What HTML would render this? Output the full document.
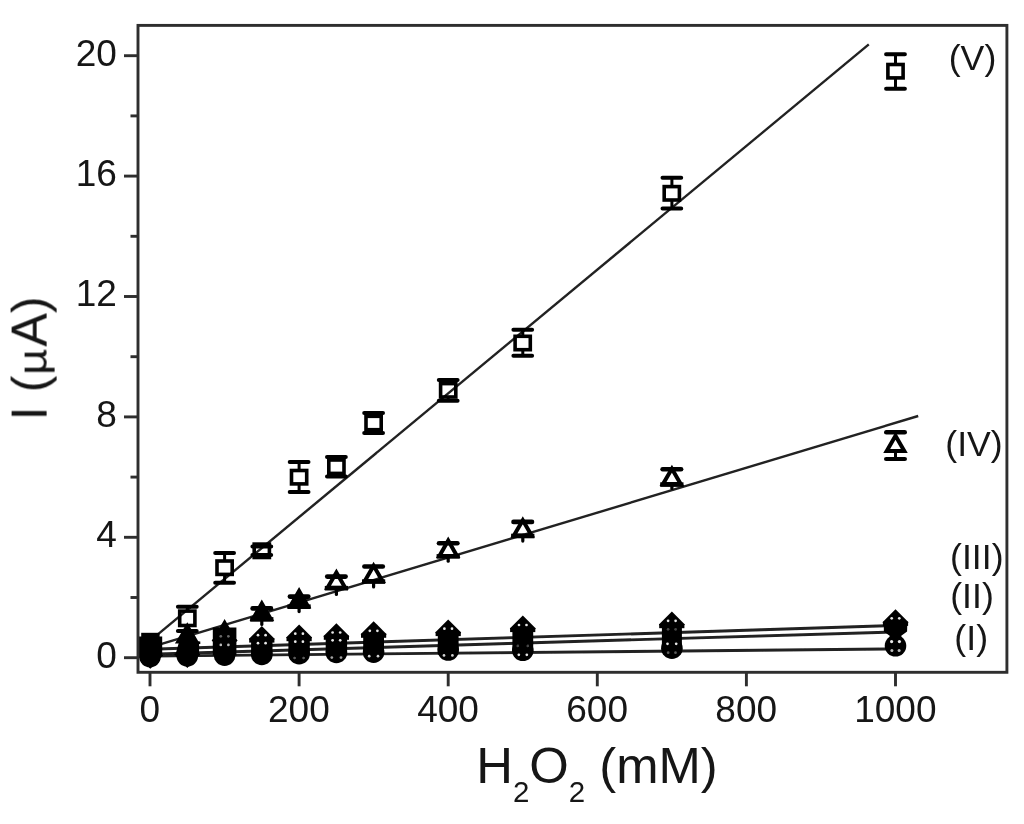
<!DOCTYPE html>
<html lang="en"><head><meta charset="utf-8"><title>I (µA) vs H2O2 (mM)</title>
<style>html,body{margin:0;padding:0;background:#fff;}body{width:1024px;height:824px;overflow:hidden;}svg{display:block;}text{font-family:"Liberation Sans",Arial,Helvetica,sans-serif;fill:#141414;}</style></head><body>
<svg width="1024" height="824" viewBox="0 0 1024 824">
<defs><filter id="soft" x="0" y="0" width="1024" height="824" filterUnits="userSpaceOnUse"><feGaussianBlur stdDeviation="0.72"/></filter></defs>
<rect x="0" y="0" width="1024" height="824" fill="#fff"/>
<g filter="url(#soft)">
<g stroke="#202020" stroke-width="2.4" stroke-linecap="butt" fill="none">
<line x1="150.0" y1="640.8" x2="868.8" y2="44.4"/>
<line x1="150.0" y1="647.3" x2="918.2" y2="416.0"/>
<line x1="150.0" y1="649.2" x2="895.3" y2="625.5" stroke-width="2.9"/>
<line x1="150.0" y1="654.3" x2="895.3" y2="631.9" stroke-width="2.9"/>
<line x1="150.0" y1="656.1" x2="895.3" y2="648.9" stroke-width="2.9"/>
</g>
<g stroke="#000" fill="none" stroke-width="4" stroke-linejoin="miter">
<path d="M150.0 639.8 L158.8 655.1 L141.2 655.1 Z" fill="#000"/>
<path d="M187.3 626.3 L196.1 641.6 L178.4 641.6 Z" fill="#000"/>
<path d="M224.6 623.0 L233.4 638.3 L215.7 638.3 Z" fill="#000"/>
<path d="M261.8 603.6 L270.7 618.9 L253.0 618.9 Z" fill="#000"/>
<path d="M252.6 608.4 H271.0" stroke-width="4.6" stroke-linecap="round"/>
<path d="M250.2 619.4 H273.4" stroke-width="4.6" stroke-linecap="butt"/>
<path d="M261.8 618.8 V624.4" stroke-width="3.2" stroke-linecap="round"/>
<path d="M299.1 590.9 L307.9 606.2 L290.3 606.2 Z" fill="#000"/>
<path d="M289.9 596.6 H308.3" stroke-width="4.6" stroke-linecap="round"/>
<path d="M287.5 606.7 H310.7" stroke-width="4.6" stroke-linecap="butt"/>
<path d="M299.1 606.1 V611.6" stroke-width="3.2" stroke-linecap="round"/>
<path d="M336.4 572.4 L345.2 587.7 L327.5 587.7 Z" fill="none"/>
<path d="M327.2 576.6 H345.6" stroke-width="4.6" stroke-linecap="round"/>
<path d="M324.8 588.2 H348.0" stroke-width="4.6" stroke-linecap="butt"/>
<path d="M336.4 587.6 V594.4" stroke-width="3.2" stroke-linecap="round"/>
<path d="M373.6 565.8 L382.5 581.1 L364.8 581.1 Z" fill="none"/>
<path d="M364.4 566.5 H382.8" stroke-width="4.6" stroke-linecap="round"/>
<path d="M362.0 581.6 H385.2" stroke-width="4.6" stroke-linecap="butt"/>
<path d="M373.6 581.0 V586.9" stroke-width="3.2" stroke-linecap="round"/>
<path d="M448.2 540.6 L457.0 555.9 L439.4 555.9 Z" fill="none"/>
<path d="M439.0 543.2 H457.4" stroke-width="4.6" stroke-linecap="round"/>
<path d="M436.6 556.4 H459.8" stroke-width="4.6" stroke-linecap="butt"/>
<path d="M448.2 555.8 V561.2" stroke-width="3.2" stroke-linecap="round"/>
<path d="M522.8 520.2 L531.6 535.5 L513.9 535.5 Z" fill="none"/>
<path d="M513.5 521.9 H532.0" stroke-width="4.6" stroke-linecap="round"/>
<path d="M511.1 536.0 H534.4" stroke-width="4.6" stroke-linecap="butt"/>
<path d="M522.8 535.4 V541.1" stroke-width="3.2" stroke-linecap="round"/>
<path d="M671.9 468.8 L680.7 484.1 L663.0 484.1 Z" fill="none"/>
<path d="M662.6 469.3 H681.1" stroke-width="4.6" stroke-linecap="round"/>
<path d="M660.2 484.6 H683.5" stroke-width="4.6" stroke-linecap="butt"/>
<path d="M671.9 484.0 V488.4" stroke-width="3.2" stroke-linecap="round"/>
<path d="M895.5 435.8 L904.3 451.1 L886.7 451.1 Z" fill="none"/>
<path d="M886.3 432.2 H904.7" stroke-width="4.6" stroke-linecap="round"/>
<path d="M886.1 459.0 H904.9" stroke-width="4.2" stroke-linecap="round"/>
<path d="M895.5 451.0 V459.0" stroke-width="3"/>
</g>
<g fill="#000" stroke="none">
<path d="M150.0 642.5 L163.0 655.5 L150.0 668.5 L137.0 655.5 Z"/>
<circle cx="150.0" cy="656.5" r="10.8"/>
<path d="M187.3 641.5 L200.3 654.5 L187.3 667.5 L174.3 654.5 Z"/>
<circle cx="187.3" cy="655.8" r="10.8"/>
<path d="M224.6 627.6 L237.6 640.6 L224.6 653.6 L211.6 640.6 Z"/>
<circle cx="224.6" cy="655.1" r="10.8"/>
<path d="M261.8 626.0 L274.8 639.0 L261.8 652.0 L248.8 639.0 Z"/>
<circle cx="261.8" cy="654.4" r="10.8"/>
<rect x="249.2" y="638.4" width="25.2" height="4.2"/>
<rect x="251.1" y="639.0" width="21.4" height="15.4"/>
<path d="M299.1 624.6 L312.1 637.6 L299.1 650.6 L286.1 637.6 Z"/>
<circle cx="299.1" cy="653.7" r="10.8"/>
<rect x="286.5" y="637.0" width="25.2" height="4.2"/>
<rect x="288.4" y="637.6" width="21.4" height="16.1"/>
<path d="M336.4 623.2 L349.4 636.2 L336.4 649.2 L323.4 636.2 Z"/>
<circle cx="336.4" cy="652.4" r="10.8"/>
<rect x="323.8" y="635.6" width="25.2" height="4.2"/>
<rect x="325.7" y="636.2" width="21.4" height="16.2"/>
<path d="M373.6 621.2 L386.6 634.2 L373.6 647.2 L360.6 634.2 Z"/>
<circle cx="373.6" cy="652.1" r="10.8"/>
<rect x="361.0" y="633.6" width="25.2" height="4.2"/>
<rect x="363.2" y="634.2" width="20.8" height="17.9"/>
<path d="M448.2 619.5 L461.2 632.5 L448.2 645.5 L435.2 632.5 Z"/>
<circle cx="448.2" cy="650.0" r="10.8"/>
<rect x="435.6" y="631.9" width="25.2" height="4.2"/>
<rect x="437.8" y="632.5" width="20.8" height="17.5"/>
<path d="M522.8 615.5 L535.8 628.5 L522.8 641.5 L509.8 628.5 Z"/>
<circle cx="522.8" cy="650.3" r="10.8"/>
<rect x="510.1" y="627.9" width="25.2" height="4.2"/>
<rect x="512.4" y="628.5" width="20.8" height="21.8"/>
<path d="M671.9 611.6 L684.9 624.6 L671.9 637.6 L658.9 624.6 Z"/>
<circle cx="671.9" cy="648.2" r="10.8"/>
<rect x="659.2" y="624.0" width="25.2" height="4.2"/>
<rect x="661.9" y="624.6" width="20" height="23.6"/>
<path d="M895.5 609.3 L908.5 622.3 L895.5 635.3 L882.5 622.3 Z"/>
<circle cx="895.5" cy="645.8" r="10.8"/>
<rect x="882.9" y="621.7" width="25.2" height="4.2"/>
<path d="M883.7 622.3 L907.3 622.3 L907.1 631.6 L901.3 635.7 L901.3 638.3 L889.7 638.3 L889.7 635.7 L883.9 631.6 Z"/>
<rect x="141.2" y="632.8" width="18.4" height="8"/>
<rect x="138.8" y="636.5" width="23.4" height="19"/>
<path d="M138.8 655 L162.2 655 L150.5 668.8 Z"/>
<path d="M187.3 633 L195.3 641 L200.3 641.5 L200.3 644 L199.1 644 L199.1 654.5 L187.3 668 L175.5 654.5 L179.3 641 Z"/>
<rect x="212.8" y="627.5" width="23.6" height="28"/>
</g>
<g fill="#e8e8e8">
<circle cx="220.8" cy="636.3" r="1.35" opacity="0.45"/>
<circle cx="228.4" cy="636.3" r="1.35" opacity="0.45"/>
<circle cx="220.8" cy="644.9" r="1.35" opacity="0.80"/>
<circle cx="228.4" cy="644.9" r="1.35" opacity="0.80"/>
<circle cx="258.0" cy="635.2" r="1.35" opacity="1.00"/>
<circle cx="265.6" cy="635.2" r="1.35" opacity="1.00"/>
<circle cx="258.0" cy="643.2" r="1.35" opacity="1.00"/>
<circle cx="265.6" cy="643.2" r="1.35" opacity="1.00"/>
<circle cx="295.3" cy="633.7" r="1.35" opacity="1.00"/>
<circle cx="302.9" cy="633.7" r="1.35" opacity="1.00"/>
<circle cx="295.3" cy="641.7" r="1.35" opacity="1.00"/>
<circle cx="302.9" cy="641.7" r="1.35" opacity="1.00"/>
<circle cx="294.6" cy="658.0" r="1.35" opacity="0.40"/>
<circle cx="303.6" cy="658.0" r="1.35" opacity="0.40"/>
<circle cx="332.6" cy="632.5" r="1.35" opacity="1.00"/>
<circle cx="340.2" cy="632.5" r="1.35" opacity="1.00"/>
<circle cx="332.6" cy="640.3" r="1.35" opacity="1.00"/>
<circle cx="340.2" cy="640.3" r="1.35" opacity="1.00"/>
<circle cx="331.8" cy="657.6" r="1.35" opacity="0.70"/>
<circle cx="341.0" cy="657.6" r="1.35" opacity="0.70"/>
<circle cx="369.8" cy="630.8" r="1.35" opacity="1.00"/>
<circle cx="377.4" cy="630.8" r="1.35" opacity="1.00"/>
<circle cx="369.2" cy="656.2" r="1.35" opacity="0.90"/>
<circle cx="378.0" cy="656.2" r="1.35" opacity="0.90"/>
<circle cx="444.4" cy="628.7" r="1.35" opacity="1.00"/>
<circle cx="452.0" cy="628.7" r="1.35" opacity="1.00"/>
<circle cx="444.0" cy="655.4" r="1.35" opacity="0.90"/>
<circle cx="452.4" cy="655.4" r="1.35" opacity="0.90"/>
<circle cx="519.0" cy="625.0" r="1.35" opacity="1.00"/>
<circle cx="526.5" cy="625.0" r="1.35" opacity="1.00"/>
<circle cx="518.8" cy="654.8" r="1.35" opacity="1.00"/>
<circle cx="526.8" cy="654.8" r="1.35" opacity="1.00"/>
<circle cx="517.8" cy="645.9" r="1.35" opacity="0.30"/>
<circle cx="527.8" cy="645.9" r="1.35" opacity="0.30"/>
<circle cx="668.1" cy="620.8" r="1.35" opacity="1.00"/>
<circle cx="675.6" cy="620.8" r="1.35" opacity="1.00"/>
<circle cx="668.1" cy="629.3" r="1.35" opacity="0.30"/>
<circle cx="675.6" cy="629.3" r="1.35" opacity="0.30"/>
<circle cx="667.5" cy="643.8" r="1.35" opacity="1.00"/>
<circle cx="676.2" cy="643.8" r="1.35" opacity="1.00"/>
<circle cx="668.2" cy="652.7" r="1.35" opacity="0.40"/>
<circle cx="675.5" cy="652.7" r="1.35" opacity="0.40"/>
<circle cx="891.7" cy="618.3" r="1.35" opacity="1.00"/>
<circle cx="899.3" cy="618.3" r="1.35" opacity="1.00"/>
<circle cx="891.6" cy="641.6" r="1.60" opacity="1.00"/>
<circle cx="899.4" cy="641.6" r="1.60" opacity="1.00"/>
<circle cx="891.9" cy="650.5" r="1.50" opacity="0.80"/>
<circle cx="899.1" cy="650.5" r="1.50" opacity="0.80"/>
</g>
<g stroke="#000" fill="none">
<path d="M187.3 606.8 V611.1 M187.3 625.5 V631.0" stroke-width="3"/>
<rect x="179.7" y="611.1" width="15.2" height="14.4" stroke-width="3.6" fill="none"/>
<path d="M177.9 606.8 H196.7 M177.9 631.0 H196.7" stroke-width="4" stroke-linecap="round"/>
<path d="M224.6 553.0 V561.0 M224.6 574.4 V582.8" stroke-width="3"/>
<rect x="217.0" y="561.0" width="15.2" height="13.4" stroke-width="3.6" fill="none"/>
<path d="M215.2 553.0 H234.0 M215.2 582.8 H234.0" stroke-width="4" stroke-linecap="round"/>
<path d="M261.8 546.6 V546.6 M261.8 554.9 V554.9" stroke-width="3"/>
<rect x="254.2" y="544.1" width="15.2" height="13.4" stroke-width="3.6" fill="none"/>
<path d="M252.4 546.6 H271.2 M252.4 554.9 H271.2" stroke-width="4" stroke-linecap="round"/>
<path d="M299.1 462.0 V470.5 M299.1 483.9 V492.0" stroke-width="3"/>
<rect x="291.5" y="470.5" width="15.2" height="13.4" stroke-width="3.6" fill="none"/>
<path d="M289.7 462.0 H308.5 M289.7 492.0 H308.5" stroke-width="4" stroke-linecap="round"/>
<path d="M336.4 457.0 V460.0 M336.4 473.4 V476.6" stroke-width="3"/>
<rect x="328.8" y="460.0" width="15.2" height="13.4" stroke-width="3.6" fill="none"/>
<path d="M327.0 457.0 H345.8 M327.0 476.6 H345.8" stroke-width="4" stroke-linecap="round"/>
<path d="M373.6 413.1 V416.3 M373.6 429.7 V433.1" stroke-width="3"/>
<rect x="366.0" y="416.3" width="15.2" height="13.4" stroke-width="3.6" fill="none"/>
<path d="M364.2 413.1 H383.0 M364.2 433.1 H383.0" stroke-width="4" stroke-linecap="round"/>
<path d="M448.2 380.0 V383.6 M448.2 397.0 V400.8" stroke-width="3"/>
<rect x="440.6" y="383.6" width="15.2" height="13.4" stroke-width="3.6" fill="none"/>
<path d="M438.8 380.0 H457.6 M438.8 400.8 H457.6" stroke-width="4" stroke-linecap="round"/>
<path d="M522.8 329.7 V336.3 M522.8 349.7 V355.8" stroke-width="3"/>
<rect x="515.1" y="336.3" width="15.2" height="13.4" stroke-width="3.6" fill="none"/>
<path d="M513.4 329.7 H532.1 M513.4 355.8 H532.1" stroke-width="4" stroke-linecap="round"/>
<path d="M671.9 177.7 V186.6 M671.9 200.0 V208.6" stroke-width="3"/>
<rect x="664.2" y="186.6" width="15.2" height="13.4" stroke-width="3.6" fill="none"/>
<path d="M662.5 177.7 H681.2 M662.5 208.6 H681.2" stroke-width="4" stroke-linecap="round"/>
<path d="M895.5 54.2 V64.5 M895.5 77.9 V88.8" stroke-width="3"/>
<rect x="887.9" y="64.5" width="15.2" height="13.4" stroke-width="3.6" fill="none"/>
<path d="M886.1 54.2 H904.9 M886.1 88.8 H904.9" stroke-width="4" stroke-linecap="round"/>
</g>
<g stroke="#2e2e2e" stroke-width="2.9" fill="none" stroke-linecap="butt">
<rect x="138.0" y="25.4" width="868.9" height="646.9"/>
<line x1="124.0" y1="657.7" x2="138.0" y2="657.7"/>
<line x1="130.5" y1="597.5" x2="138.0" y2="597.5"/>
<line x1="124.0" y1="537.3" x2="138.0" y2="537.3"/>
<line x1="130.5" y1="477.1" x2="138.0" y2="477.1"/>
<line x1="124.0" y1="416.9" x2="138.0" y2="416.9"/>
<line x1="130.5" y1="356.7" x2="138.0" y2="356.7"/>
<line x1="124.0" y1="296.5" x2="138.0" y2="296.5"/>
<line x1="130.5" y1="236.3" x2="138.0" y2="236.3"/>
<line x1="124.0" y1="176.1" x2="138.0" y2="176.1"/>
<line x1="130.5" y1="115.9" x2="138.0" y2="115.9"/>
<line x1="124.0" y1="55.7" x2="138.0" y2="55.7"/>
<line x1="150.0" y1="672.3" x2="150.0" y2="686.3"/>
<line x1="299.1" y1="672.3" x2="299.1" y2="686.3"/>
<line x1="448.2" y1="672.3" x2="448.2" y2="686.3"/>
<line x1="597.3" y1="672.3" x2="597.3" y2="686.3"/>
<line x1="746.4" y1="672.3" x2="746.4" y2="686.3"/>
<line x1="895.5" y1="672.3" x2="895.5" y2="686.3"/>
</g>
<text transform="translate(116.9 667.6) scale(1.000 1)" font-size="37.00" text-anchor="end">0</text>
<text transform="translate(116.9 547.2) scale(1.000 1)" font-size="37.00" text-anchor="end">4</text>
<text transform="translate(116.9 426.8) scale(1.000 1)" font-size="37.00" text-anchor="end">8</text>
<text transform="translate(116.9 306.4) scale(1.000 1)" font-size="37.00" text-anchor="end">12</text>
<text transform="translate(116.9 186.0) scale(1.000 1)" font-size="37.00" text-anchor="end">16</text>
<text transform="translate(116.9 65.6) scale(1.000 1)" font-size="37.00" text-anchor="end">20</text>
<text transform="translate(149.8 721.9) scale(1.000 1)" font-size="37.00" text-anchor="middle">0</text>
<text transform="translate(298.9 721.9) scale(1.000 1)" font-size="37.00" text-anchor="middle">200</text>
<text transform="translate(448.0 721.9) scale(1.000 1)" font-size="37.00" text-anchor="middle">400</text>
<text transform="translate(597.1 721.9) scale(1.000 1)" font-size="37.00" text-anchor="middle">600</text>
<text transform="translate(746.2 721.9) scale(1.000 1)" font-size="37.00" text-anchor="middle">800</text>
<text transform="translate(895.3 721.9) scale(1.000 1)" font-size="37.00" text-anchor="middle">1000</text>
<text transform="translate(972.5 69.9) scale(1.032 1)" font-size="34.60" text-anchor="middle">(V)</text>
<text transform="translate(974.0 455.6) scale(1.032 1)" font-size="34.60" text-anchor="middle">(IV)</text>
<text transform="translate(976.8 569.0) scale(1.032 1)" font-size="34.60" text-anchor="middle">(III)</text>
<text transform="translate(972.0 608.1) scale(1.032 1)" font-size="34.60" text-anchor="middle">(II)</text>
<text transform="translate(971.2 649.6) scale(1.032 1)" font-size="34.60" text-anchor="middle">(I)</text>
<g transform="translate(46.6 358.4) rotate(-90)" font-size="50.3"><text x="-62.0" y="0">I (</text><text transform="translate(-16.6 0) scale(0.9 0.82)">µ</text><text x="11.7" y="0">A)</text></g>
<text transform="translate(597 783.4) scale(1.016 1)" font-size="50" text-anchor="middle">H<tspan font-size="29" dy="18.8">2</tspan><tspan dy="-18.8">O</tspan><tspan font-size="29" dy="18.8">2</tspan><tspan dy="-18.8"> (mM)</tspan></text>
</g>
</svg></body></html>
